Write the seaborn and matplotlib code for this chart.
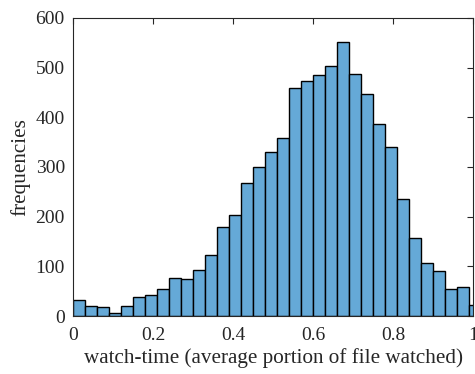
import numpy as np
import matplotlib
matplotlib.use("Agg")
import matplotlib.pyplot as plt
import seaborn as sns

# bin edges (width 0.03) and counts
bin_width = 0.03
counts = [33, 20, 19, 7, 21, 38, 43, 54, 77, 75, 93, 123, 179, 204, 267, 300,
          331, 359, 460, 474, 485, 504, 552, 487, 446, 386, 340, 236, 157, 107,
          91, 55, 58, 23]
edges = [round(i * bin_width, 2) for i in range(len(counts) + 1)]
centers = [(edges[i] + edges[i + 1]) / 2 for i in range(len(counts))]
xticks = [0, 0.2, 0.4, 0.6, 0.8, 1]
xticklabels = ["0", "0.2", "0.4", "0.6", "0.8", "1"]
yticks = [0, 100, 200, 300, 400, 500, 600]

sns.set_style("white")
plt.rcParams['font.family'] = ['Liberation Serif', 'DejaVu Serif']

fig = plt.figure(figsize=(4.75, 3.74), dpi=100)
ax = fig.add_axes([0.154, 0.155, 0.842, 0.797])

sns.histplot(x=centers, weights=counts, bins=edges, ax=ax,
             color="#65A9D7", alpha=1.0, edgecolor="black", linewidth=1.0)

ax.set_xlim(0, 1)
ax.set_ylim(0, 600)
ax.set_xticks(xticks)
ax.set_xticklabels(xticklabels)
ax.set_yticks(yticks)
ax.set_xlabel("watch-time (average portion of file watched)", fontsize=15.2,
              color="#262626", labelpad=3)
ax.set_ylabel("frequencies", fontsize=15.2, color="#262626", labelpad=4)
ax.tick_params(axis="both", direction="in", top=True, right=True, length=4, width=0.8,
               colors="#262626", labelsize=14, labelcolor="#262626")
ax.tick_params(axis="x", pad=8)
ax.tick_params(axis="y", pad=6)
for s in ax.spines.values():
    s.set_visible(True)
    s.set_color("#262626")
    s.set_linewidth(0.8)

fig.savefig("out.png", dpi=100)
